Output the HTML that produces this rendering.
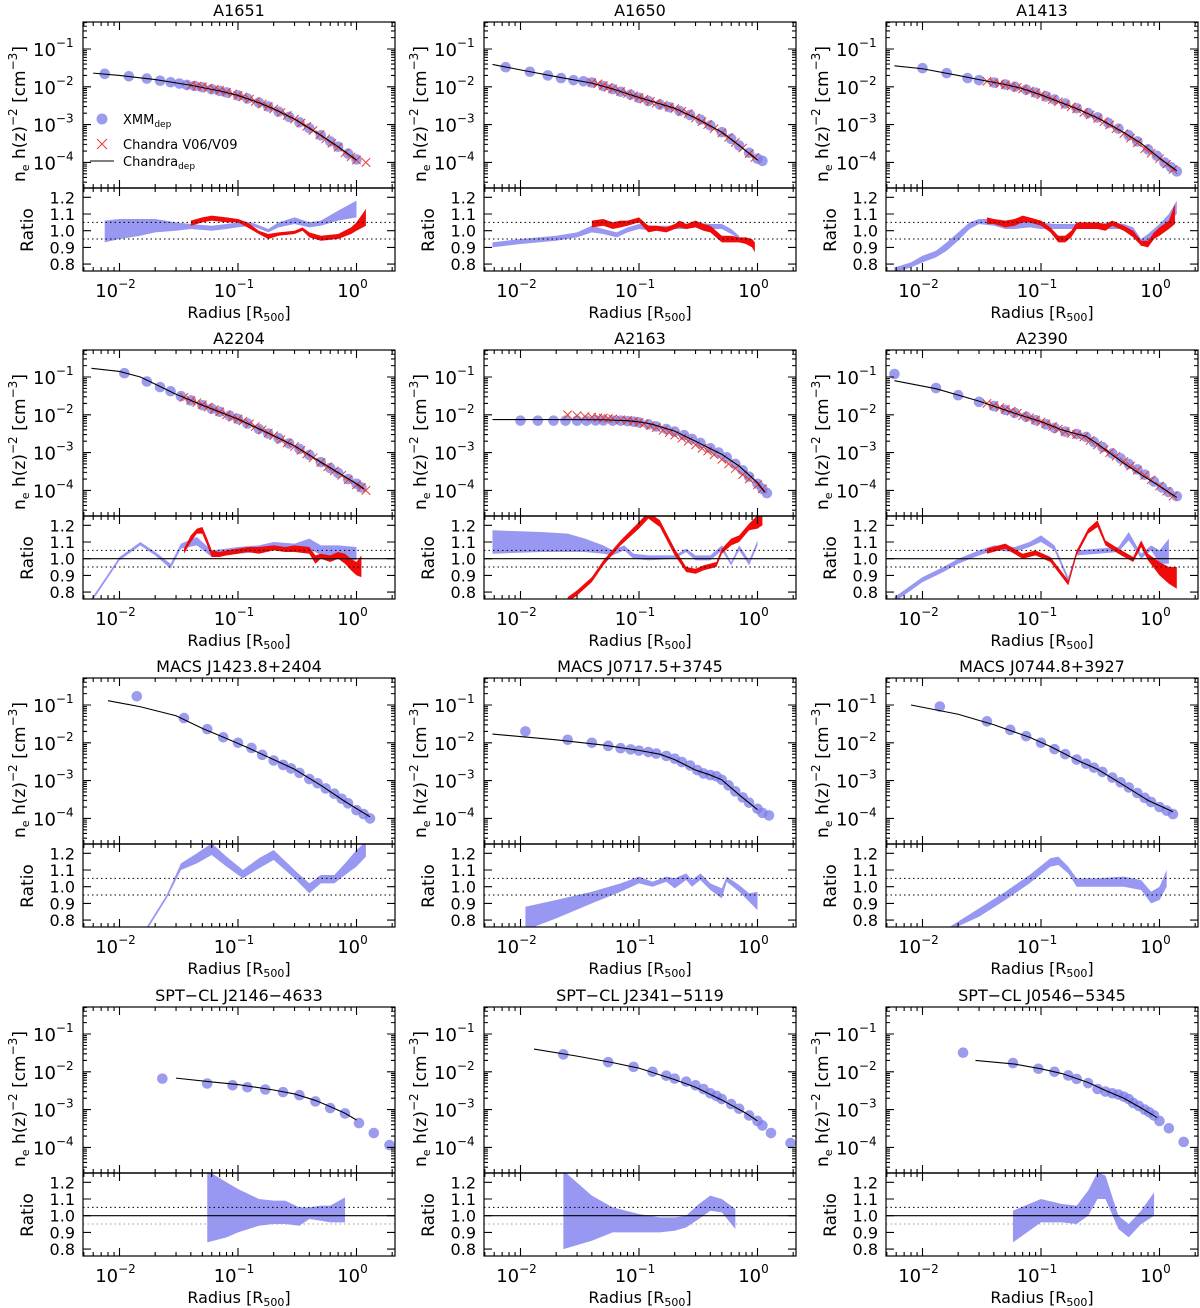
<!DOCTYPE html>
<html><head><meta charset="utf-8">
<style>
html,body{margin:0;padding:0;background:#fff;}
svg{display:block;font-family:"DejaVu Sans","Liberation Sans",sans-serif;}
</style></head>
<body>
<svg id="fig" xmlns="http://www.w3.org/2000/svg" width="1200" height="1308" viewBox="0 0 1200 1308"></svg>
<script>
// ---------- data (radius in R500, ne h(z)^-2 in cm^-3, ratio) ----------
const p1_title="A1651";
const p1_xr=[0.0075,0.012,0.017,0.022,0.027,0.032,0.037,0.043,0.05,0.06,0.07,0.08,0.1,0.12,0.15,0.18,0.22,0.27,0.33,0.4,0.5,0.6,0.7,0.85,1.0];
const p1_xn=[2.2e-2,1.9e-2,1.65e-2,1.45e-2,1.32e-2,1.22e-2,1.12e-2,1.05e-2,9.7e-3,8.6e-3,7.8e-3,7.1e-3,5.9e-3,4.9e-3,3.8e-3,3.0e-3,2.2e-3,1.6e-3,1.15e-3,8.0e-4,5.2e-4,3.6e-4,2.6e-4,1.7e-4,1.2e-4];
const p1_cr=[0.04,0.045,0.05,0.056,0.063,0.07,0.08,0.09,0.1,0.11,0.125,0.14,0.16,0.18,0.2,0.23,0.26,0.3,0.34,0.38,0.43,0.49,0.55,0.62,0.7,0.8,0.9,1.0,1.2];
const p1_cn=[1.1e-2,1.05e-2,1.0e-2,9.3e-3,8.6e-3,8.0e-3,7.2e-3,6.5e-3,5.9e-3,5.4e-3,4.7e-3,4.1e-3,3.5e-3,3.0e-3,2.6e-3,2.1e-3,1.75e-3,1.4e-3,1.1e-3,9.0e-4,7.0e-4,5.4e-4,4.2e-4,3.2e-4,2.5e-4,1.8e-4,1.4e-4,1.15e-4,1.0e-4];
const p1_mr=[0.006,0.01,0.02,0.04,0.07,0.1,0.15,0.2,0.3,0.5,0.7,1.0];
const p1_mn=[2.3e-2,2.0e-2,1.55e-2,1.1e-2,7.8e-3,5.9e-3,3.8e-3,2.6e-3,1.4e-3,5.2e-4,2.6e-4,1.15e-4];
const p1_br=[0.0075,0.01,0.015,0.02,0.03,0.04,0.06,0.08,0.1,0.13,0.18,0.22,0.3,0.4,0.5,0.7,1.0];
const p1_blo=[0.93,0.95,0.97,0.99,1.0,1.01,1.0,1.01,1.02,1.03,0.99,1.02,1.04,1.02,1.03,1.06,1.08];
const p1_bhi=[1.06,1.07,1.07,1.07,1.05,1.04,1.03,1.04,1.05,1.05,1.01,1.05,1.08,1.05,1.06,1.12,1.18];
const p1_rr=[0.04,0.05,0.06,0.08,0.1,0.12,0.15,0.18,0.22,0.3,0.35,0.4,0.5,0.7,0.9,1.0,1.2];
const p1_rlo=[1.03,1.05,1.06,1.05,1.05,1.02,0.98,0.95,0.97,0.98,1.0,0.96,0.94,0.95,0.98,1.0,1.03];
const p1_rhi=[1.06,1.08,1.09,1.08,1.07,1.05,1.0,0.98,0.99,1.0,1.02,0.99,0.97,0.98,1.02,1.05,1.13];

const p2_title="A1650";
const p2_xr=[0.0075,0.012,0.017,0.022,0.028,0.034,0.04,0.05,0.06,0.07,0.085,0.1,0.12,0.15,0.18,0.22,0.27,0.33,0.4,0.5,0.6,0.7,0.85,1.0,1.1];
const p2_xn=[3.3e-2,2.5e-2,2.0e-2,1.7e-2,1.5e-2,1.4e-2,1.3e-2,1.05e-2,8.7e-3,7.4e-3,6.2e-3,5.1e-3,4.2e-3,3.4e-3,2.9e-3,2.3e-3,1.8e-3,1.35e-3,9.5e-4,6.3e-4,4.2e-4,2.8e-4,1.8e-4,1.25e-4,1.1e-4];
const p2_cr=[0.04,0.045,0.05,0.055,0.06,0.07,0.08,0.09,0.1,0.11,0.125,0.14,0.16,0.18,0.2,0.23,0.26,0.3,0.34,0.38,0.43,0.5,0.57,0.65,0.75,0.85,0.95];
const p2_cn=[1.3e-2,1.2e-2,1.08e-2,9.7e-3,8.8e-3,7.5e-3,6.6e-3,5.8e-3,5.2e-3,4.7e-3,4.1e-3,3.7e-3,3.3e-3,2.9e-3,2.65e-3,2.25e-3,1.95e-3,1.5e-3,1.2e-3,1.0e-3,7.8e-4,6.0e-4,4.6e-4,3.4e-4,2.4e-4,1.7e-4,1.35e-4];
const p2_mr=[0.0058,0.01,0.02,0.04,0.06,0.1,0.2,0.3,0.5,0.7,1.0];
const p2_mn=[3.9e-2,2.8e-2,1.85e-2,1.25e-2,8.8e-3,5.2e-3,2.7e-3,1.5e-3,6.3e-4,2.8e-4,1.15e-4];
const p2_br=[0.0058,0.01,0.02,0.03,0.04,0.05,0.065,0.08,0.1,0.13,0.18,0.25,0.3,0.4,0.5,0.6,0.7];
const p2_blo=[0.90,0.92,0.94,0.96,0.99,0.98,0.96,0.99,1.01,1.0,1.01,1.01,1.02,1.01,1.01,0.98,0.95];
const p2_bhi=[0.93,0.95,0.97,0.99,1.03,1.01,0.99,1.02,1.04,1.03,1.03,1.04,1.05,1.04,1.04,1.01,0.97];
const p2_rr=[0.04,0.05,0.06,0.07,0.08,0.1,0.12,0.14,0.17,0.2,0.22,0.25,0.3,0.35,0.4,0.5,0.6,0.7,0.8,0.9,0.95];
const p2_rlo=[1.02,1.03,1.01,1.02,1.03,1.05,0.99,1.0,0.99,1.01,1.02,1.01,1.02,1.0,0.99,0.93,0.93,0.93,0.92,0.9,0.87];
const p2_rhi=[1.06,1.07,1.05,1.06,1.06,1.08,1.03,1.03,1.02,1.04,1.06,1.04,1.06,1.04,1.03,0.97,0.97,0.96,0.96,0.95,0.93];

const p3_title="A1413";
const p3_xr=[0.01,0.016,0.024,0.03,0.04,0.05,0.06,0.075,0.09,0.11,0.13,0.16,0.2,0.25,0.3,0.37,0.45,0.55,0.65,0.8,0.95,1.1,1.25,1.4];
const p3_xn=[3.1e-2,2.3e-2,1.7e-2,1.5e-2,1.3e-2,1.15e-2,1.0e-2,8.4e-3,7.0e-3,5.6e-3,4.6e-3,3.6e-3,2.7e-3,2.0e-3,1.55e-3,1.1e-3,7.8e-4,5.2e-4,3.6e-4,2.2e-4,1.5e-4,1.0e-4,7.5e-5,5.8e-5];
const p3_cr=[0.035,0.04,0.045,0.05,0.056,0.063,0.07,0.08,0.09,0.1,0.11,0.125,0.14,0.16,0.18,0.2,0.23,0.26,0.3,0.34,0.38,0.43,0.5,0.57,0.65,0.75,0.85,1.0,1.15,1.3];
const p3_cn=[1.4e-2,1.3e-2,1.2e-2,1.12e-2,1.05e-2,9.6e-3,8.8e-3,7.8e-3,6.9e-3,6.1e-3,5.4e-3,4.6e-3,4.0e-3,3.4e-3,2.95e-3,2.6e-3,2.1e-3,1.8e-3,1.45e-3,1.2e-3,9.8e-4,7.8e-4,5.8e-4,4.4e-4,3.3e-4,2.3e-4,1.75e-4,1.25e-4,9e-5,6.5e-5];
const p3_mr=[0.0058,0.01,0.02,0.03,0.05,0.07,0.1,0.2,0.3,0.5,0.7,1.0,1.4];
const p3_mn=[3.6e-2,3.0e-2,2.0e-2,1.55e-2,1.15e-2,8.9e-3,6.1e-3,2.65e-3,1.5e-3,6.2e-4,3.2e-4,1.3e-4,6e-5];
const p3_br=[0.0058,0.008,0.01,0.013,0.016,0.02,0.025,0.03,0.04,0.05,0.06,0.08,0.1,0.13,0.2,0.3,0.4,0.5,0.6,0.7,0.8,1.0,1.2,1.4];
const p3_blo=[0.75,0.78,0.81,0.84,0.88,0.94,1.01,1.04,1.03,1.01,1.01,1.02,1.01,1.01,1.01,1.01,1.01,1.01,0.98,0.91,0.94,1.0,1.05,1.1];
const p3_bhi=[0.78,0.81,0.85,0.88,0.93,0.99,1.05,1.07,1.07,1.05,1.04,1.06,1.05,1.04,1.04,1.04,1.05,1.04,1.02,0.95,0.98,1.04,1.1,1.18];
const p3_rr=[0.035,0.04,0.05,0.06,0.07,0.08,0.1,0.12,0.14,0.16,0.18,0.2,0.25,0.3,0.35,0.4,0.5,0.6,0.7,0.8,0.9,1.0,1.2,1.35];
const p3_rlo=[1.04,1.04,1.02,1.03,1.05,1.05,1.03,0.99,0.93,0.93,0.96,1.01,1.01,1.01,1.0,1.03,1.0,0.96,0.91,0.9,0.95,0.97,1.01,1.04];
const p3_rhi=[1.08,1.07,1.06,1.07,1.09,1.08,1.06,1.02,0.97,0.97,1.0,1.05,1.05,1.05,1.04,1.06,1.03,1.0,0.94,0.94,0.99,1.02,1.06,1.16];

const p4_title="A2204";
const p4_xr=[0.011,0.017,0.022,0.027,0.033,0.04,0.05,0.06,0.07,0.085,0.1,0.12,0.15,0.18,0.22,0.27,0.33,0.4,0.5,0.6,0.7,0.85,1.0,1.1];
const p4_xn=[0.126,7.6e-2,5.4e-2,4.2e-2,3.1e-2,2.4e-2,1.8e-2,1.45e-2,1.2e-2,9.5e-3,7.7e-3,5.9e-3,4.2e-3,3.2e-3,2.4e-3,1.75e-3,1.25e-3,8.7e-4,5.6e-4,3.9e-4,2.9e-4,2.0e-4,1.5e-4,1.2e-4];
const p4_cr=[0.035,0.04,0.045,0.05,0.056,0.063,0.07,0.08,0.09,0.1,0.11,0.125,0.14,0.16,0.18,0.2,0.23,0.26,0.3,0.34,0.38,0.43,0.5,0.57,0.65,0.75,0.85,1.0,1.1,1.2];
const p4_cn=[2.9e-2,2.4e-2,2.1e-2,1.85e-2,1.6e-2,1.38e-2,1.2e-2,1.0e-2,8.6e-3,7.7e-3,6.8e-3,5.8e-3,4.9e-3,4.0e-3,3.3e-3,2.8e-3,2.2e-3,1.8e-3,1.45e-3,1.15e-3,9.2e-4,7.3e-4,5.5e-4,4.2e-4,3.3e-4,2.5e-4,1.9e-4,1.4e-4,1.2e-4,1.0e-4];
const p4_mr=[0.0058,0.01,0.015,0.02,0.03,0.05,0.1,0.2,0.3,0.5,1.0,1.15];
const p4_mn=[0.17,0.14,0.10,6.5e-2,3.5e-2,1.8e-2,7.7e-3,2.8e-3,1.5e-3,5.6e-4,1.5e-4,1.1e-4];
const p4_br=[0.0058,0.01,0.015,0.02,0.027,0.033,0.045,0.06,0.08,0.1,0.15,0.2,0.3,0.4,0.5,0.7,1.0];
const p4_blo=[0.74,0.99,1.08,1.02,0.94,1.06,1.08,1.01,1.02,1.03,1.04,1.05,1.04,1.06,1.02,1.0,0.99];
const p4_bhi=[0.76,1.01,1.10,1.04,0.97,1.09,1.13,1.05,1.06,1.07,1.08,1.1,1.09,1.12,1.08,1.08,1.07];
const p4_rr=[0.035,0.04,0.045,0.05,0.055,0.06,0.07,0.08,0.1,0.12,0.15,0.2,0.25,0.3,0.4,0.45,0.5,0.6,0.7,0.8,0.9,1.0,1.1];
const p4_rlo=[1.03,1.1,1.15,1.15,1.08,1.01,1.01,1.02,1.03,1.04,1.03,1.05,1.04,1.04,1.03,0.97,1.0,0.98,1.0,0.97,0.93,0.9,0.89];
const p4_rhi=[1.06,1.14,1.18,1.19,1.12,1.05,1.04,1.05,1.06,1.07,1.07,1.08,1.07,1.08,1.07,1.02,1.03,1.02,1.04,1.03,1.0,0.98,1.02];

const p5_title="A2163";
const p5_xr=[0.01,0.014,0.019,0.024,0.03,0.036,0.043,0.05,0.06,0.07,0.08,0.09,0.1,0.12,0.14,0.17,0.2,0.24,0.28,0.33,0.4,0.47,0.55,0.65,0.75,0.85,1.0,1.1,1.2];
const p5_xn=[7.0e-3,7.0e-3,7.0e-3,7.0e-3,7.0e-3,7.0e-3,7.1e-3,7.1e-3,7.0e-3,7.0e-3,6.8e-3,6.6e-3,6.3e-3,5.6e-3,4.9e-3,4.2e-3,3.6e-3,2.9e-3,2.3e-3,1.8e-3,1.3e-3,1.0e-3,7.5e-4,5.0e-4,3.4e-4,2.3e-4,1.5e-4,1.1e-4,8.5e-5];
const p5_cr=[0.025,0.03,0.035,0.04,0.045,0.05,0.055,0.06,0.07,0.08,0.09,0.1,0.11,0.125,0.14,0.16,0.18,0.2,0.23,0.26,0.3,0.34,0.38,0.43,0.5,0.57,0.65,0.75,0.85,1.0,1.1];
const p5_cn=[1.0e-2,9.5e-3,9.0e-3,8.7e-3,8.4e-3,8.2e-3,8.0e-3,7.8e-3,7.4e-3,7.1e-3,6.8e-3,6.3e-3,5.8e-3,5.2e-3,4.6e-3,3.9e-3,3.4e-3,2.9e-3,2.4e-3,2.0e-3,1.6e-3,1.3e-3,1.1e-3,8.8e-4,6.6e-4,5.0e-4,3.8e-4,2.6e-4,2.0e-4,1.4e-4,1.1e-4];
const p5_mr=[0.0058,0.02,0.05,0.08,0.1,0.13,0.2,0.3,0.5,0.7,1.0,1.15];
const p5_mn=[7.5e-3,7.5e-3,7.4e-3,7.0e-3,6.5e-3,5.6e-3,3.7e-3,2.0e-3,9.0e-4,4.4e-4,1.6e-4,9e-5];
const p5_br=[0.0058,0.015,0.025,0.035,0.05,0.06,0.075,0.09,0.12,0.2,0.25,0.3,0.4,0.5,0.6,0.7,0.85,1.0];
const p5_blo=[1.03,1.04,1.04,1.04,1.03,1.02,1.05,1.0,0.99,1.0,1.04,0.99,0.99,1.05,0.96,1.05,0.96,1.08];
const p5_bhi=[1.17,1.16,1.15,1.12,1.08,1.05,1.08,1.03,1.02,1.02,1.06,1.02,1.02,1.08,0.98,1.08,0.99,1.11];
const p5_rr=[0.025,0.03,0.04,0.05,0.07,0.1,0.12,0.15,0.2,0.25,0.3,0.35,0.45,0.5,0.6,0.7,0.85,1.0,1.1];
const p5_rlo=[0.74,0.78,0.86,0.96,1.08,1.18,1.24,1.19,1.02,0.92,0.91,0.93,0.95,1.03,1.08,1.1,1.17,1.18,1.2];
const p5_rhi=[0.77,0.81,0.89,0.99,1.11,1.22,1.28,1.23,1.06,0.95,0.94,0.96,0.98,1.06,1.12,1.14,1.21,1.26,1.28];

const p6_title="A2390";
const p6_xr=[0.0058,0.013,0.02,0.03,0.04,0.05,0.06,0.075,0.09,0.11,0.13,0.16,0.2,0.24,0.28,0.33,0.4,0.47,0.55,0.65,0.75,0.9,1.05,1.2,1.4];
const p6_xn=[0.12,5.1e-2,3.3e-2,2.2e-2,1.7e-2,1.35e-2,1.12e-2,8.9e-3,7.2e-3,5.6e-3,4.5e-3,3.6e-3,3.1e-3,2.6e-3,1.9e-3,1.4e-3,9.5e-4,7.0e-4,5.0e-4,3.6e-4,2.6e-4,1.7e-4,1.2e-4,9e-5,7e-5];
const p6_cr=[0.035,0.04,0.045,0.05,0.056,0.063,0.07,0.08,0.09,0.1,0.11,0.125,0.14,0.16,0.18,0.2,0.23,0.26,0.3,0.34,0.38,0.43,0.5,0.57,0.65,0.75,0.85,1.0,1.15,1.3];
const p6_cn=[2.0e-2,1.75e-2,1.55e-2,1.4e-2,1.25e-2,1.1e-2,9.5e-3,8.3e-3,7.3e-3,6.5e-3,5.8e-3,4.9e-3,4.2e-3,3.6e-3,3.2e-3,3.0e-3,2.6e-3,2.1e-3,1.6e-3,1.2e-3,1.0e-3,8.0e-4,5.8e-4,4.4e-4,3.4e-4,2.5e-4,1.9e-4,1.3e-4,9.5e-5,7e-5];
const p6_mr=[0.0058,0.013,0.03,0.06,0.1,0.15,0.2,0.24,0.3,0.5,0.7,1.0,1.4];
const p6_mn=[8.0e-2,4.9e-2,2.3e-2,1.1e-2,6.6e-3,4.0e-3,3.1e-3,2.7e-3,1.7e-3,5.2e-4,2.6e-4,1.3e-4,6.5e-5];
const p6_br=[0.0058,0.01,0.015,0.02,0.03,0.04,0.06,0.08,0.1,0.13,0.17,0.2,0.3,0.45,0.55,0.7,0.85,1.0,1.2];
const p6_blo=[0.74,0.86,0.92,0.97,1.02,1.05,1.04,1.07,1.1,1.05,0.86,1.02,1.03,1.04,1.11,1.0,1.05,0.97,0.97];
const p6_bhi=[0.77,0.89,0.95,1.0,1.05,1.08,1.07,1.1,1.14,1.08,0.89,1.05,1.06,1.07,1.16,1.03,1.08,1.05,1.12];
const p6_rr=[0.035,0.05,0.07,0.09,0.12,0.17,0.2,0.25,0.3,0.35,0.45,0.6,0.7,0.8,1.0,1.2,1.4];
const p6_rlo=[1.03,1.06,1.0,1.02,0.98,0.84,1.02,1.15,1.19,1.08,1.03,0.98,1.07,0.99,0.9,0.85,0.82];
const p6_rhi=[1.06,1.09,1.03,1.05,1.01,0.87,1.05,1.18,1.23,1.11,1.06,1.01,1.11,1.03,0.98,0.95,0.95];

const p7_title="MACS J1423.8+2404";
const p7_xr=[0.014,0.035,0.055,0.075,0.1,0.13,0.16,0.2,0.24,0.28,0.33,0.4,0.47,0.55,0.65,0.75,0.85,1.0,1.15,1.3];
const p7_xn=[0.17,4.5e-2,2.3e-2,1.4e-2,1.0e-2,7.3e-3,4.8e-3,3.4e-3,2.6e-3,2.1e-3,1.6e-3,1.1e-3,8.5e-4,6.2e-4,4.5e-4,3.3e-4,2.5e-4,1.65e-4,1.3e-4,1.0e-4];
const p7_mr=[0.008,0.015,0.03,0.05,0.08,0.12,0.2,0.3,0.5,0.8,1.3];
const p7_mn=[0.13,0.09,5.2e-2,2.4e-2,1.3e-2,7.5e-3,3.6e-3,2.0e-3,7.5e-4,2.8e-4,1.1e-4];
const p7_br=[0.017,0.025,0.033,0.045,0.06,0.08,0.11,0.15,0.2,0.3,0.4,0.5,0.65,0.8,1.0,1.2];
const p7_blo=[0.74,0.93,1.1,1.14,1.19,1.12,1.05,1.11,1.16,1.05,0.96,1.02,1.02,1.07,1.12,1.18];
const p7_bhi=[0.76,0.95,1.14,1.2,1.26,1.18,1.1,1.17,1.22,1.1,1.02,1.07,1.07,1.14,1.22,1.27];

const p8_title="MACS J0717.5+3745";
const p8_xr=[0.011,0.025,0.04,0.055,0.07,0.085,0.1,0.12,0.14,0.17,0.2,0.23,0.27,0.31,0.35,0.4,0.45,0.5,0.57,0.65,0.75,0.85,1.0,1.1,1.25];
const p8_xn=[2.0e-2,1.2e-2,1.0e-2,8.3e-3,7.2e-3,6.7e-3,6.2e-3,5.7e-3,5.2e-3,4.5e-3,3.8e-3,3.1e-3,2.5e-3,1.9e-3,1.55e-3,1.4e-3,1.3e-3,1.05e-3,7.5e-4,5.2e-4,3.6e-4,2.6e-4,1.8e-4,1.4e-4,1.2e-4];
const p8_mr=[0.0058,0.02,0.05,0.1,0.15,0.2,0.3,0.4,0.5,0.7,1.0];
const p8_mn=[1.7e-2,1.2e-2,8.7e-3,6.3e-3,5.0e-3,3.6e-3,1.9e-3,1.4e-3,1.05e-3,4.2e-4,1.7e-4];
const p8_br=[0.011,0.02,0.04,0.07,0.1,0.13,0.17,0.2,0.25,0.28,0.33,0.4,0.5,0.55,0.7,0.85,1.0];
const p8_blo=[0.74,0.81,0.9,0.97,1.02,1.0,1.03,0.99,1.04,1.0,1.04,0.98,0.93,1.03,0.97,0.91,0.86];
const p8_bhi=[0.88,0.92,0.97,1.02,1.06,1.03,1.06,1.05,1.08,1.04,1.08,1.02,0.99,1.06,1.01,0.96,0.97];

const p9_title="MACS J0744.8+3927";
const p9_xr=[0.014,0.035,0.055,0.075,0.1,0.13,0.16,0.2,0.24,0.28,0.33,0.4,0.47,0.55,0.65,0.75,0.85,1.0,1.15,1.3];
const p9_xn=[9.1e-2,3.7e-2,2.2e-2,1.5e-2,1.0e-2,6.8e-3,5.0e-3,3.6e-3,2.8e-3,2.2e-3,1.7e-3,1.2e-3,9.0e-4,6.6e-4,4.7e-4,3.5e-4,2.7e-4,2.0e-4,1.6e-4,1.3e-4];
const p9_mr=[0.008,0.02,0.04,0.08,0.12,0.2,0.3,0.5,0.8,1.3];
const p9_mn=[0.1,5.7e-2,3.0e-2,1.4e-2,8.0e-3,3.5e-3,2.0e-3,7.5e-4,3.0e-4,1.5e-4];
const p9_br=[0.017,0.03,0.05,0.08,0.12,0.14,0.17,0.2,0.3,0.5,0.7,0.85,1.0,1.15];
const p9_blo=[0.74,0.82,0.92,1.02,1.12,1.13,1.08,1.0,1.0,1.0,0.98,0.9,0.92,1.0];
const p9_bhi=[0.76,0.87,0.97,1.07,1.17,1.18,1.12,1.05,1.05,1.06,1.04,0.97,1.0,1.1];

const p10_title="SPT\u2212CL J2146\u22124633";
const p10_xr=[0.023,0.055,0.09,0.12,0.17,0.24,0.33,0.45,0.6,0.8,1.05,1.4,1.9];
const p10_xn=[6.6e-3,4.9e-3,4.4e-3,3.9e-3,3.4e-3,2.9e-3,2.4e-3,1.65e-3,1.1e-3,7.9e-4,4.4e-4,2.4e-4,1.15e-4];
const p10_mr=[0.03,0.06,0.1,0.2,0.3,0.45,0.6,0.8,1.0];
const p10_mn=[6.8e-3,5.4e-3,4.6e-3,3.3e-3,2.6e-3,1.75e-3,1.2e-3,8.0e-4,5.3e-4];
const p10_br=[0.055,0.08,0.1,0.15,0.2,0.25,0.33,0.4,0.5,0.6,0.8];
const p10_blo=[0.84,0.87,0.9,0.94,0.95,0.95,0.94,0.98,0.97,0.96,0.96];
const p10_bhi=[1.27,1.2,1.16,1.1,1.09,1.09,1.05,1.05,1.06,1.06,1.11];

const p11_title="SPT\u2212CL J2341\u22125119";
const p11_xr=[0.023,0.055,0.09,0.13,0.17,0.2,0.25,0.3,0.35,0.4,0.45,0.5,0.6,0.7,0.85,1.0,1.1,1.3,1.9];
const p11_xn=[2.9e-2,1.8e-2,1.35e-2,1.0e-2,7.9e-3,6.6e-3,5.5e-3,4.4e-3,3.5e-3,2.7e-3,2.3e-3,1.9e-3,1.4e-3,1.05e-3,7e-4,5e-4,3.8e-4,2.4e-4,1.3e-4];
const p11_mr=[0.013,0.03,0.06,0.1,0.2,0.3,0.5,0.8,1.0];
const p11_mn=[4.0e-2,2.6e-2,1.75e-2,1.25e-2,6.2e-3,3.9e-3,1.8e-3,8e-4,5e-4];
const p11_br=[0.023,0.04,0.06,0.1,0.15,0.2,0.25,0.32,0.4,0.5,0.65];
const p11_blo=[0.8,0.85,0.9,0.9,0.9,0.91,0.93,0.98,1.03,1.02,0.92];
const p11_bhi=[1.27,1.12,1.05,1.01,0.99,0.99,1.0,1.07,1.12,1.1,1.04];

const p12_title="SPT\u2212CL J0546\u22125345";
const p12_xr=[0.022,0.058,0.095,0.13,0.17,0.2,0.25,0.3,0.35,0.4,0.45,0.5,0.55,0.6,0.67,0.75,0.82,0.9,1.0,1.2,1.6];
const p12_xn=[3.2e-2,1.7e-2,1.2e-2,1.0e-2,8e-3,6.5e-3,5.0e-3,3.5e-3,3.0e-3,2.7e-3,2.5e-3,2.2e-3,1.9e-3,1.5e-3,1.25e-3,1.0e-3,8.5e-4,7e-4,5e-4,3.2e-4,1.4e-4];
const p12_mr=[0.028,0.06,0.1,0.15,0.25,0.35,0.5,0.7,0.95];
const p12_mn=[2.0e-2,1.6e-2,1.2e-2,9e-3,5.2e-3,3.2e-3,2.0e-3,1.1e-3,6.2e-4];
const p12_br=[0.058,0.1,0.15,0.2,0.25,0.3,0.35,0.45,0.55,0.7,0.9];
const p12_blo=[0.84,0.96,0.96,0.95,1.0,1.1,1.1,0.92,0.87,0.95,1.0];
const p12_bhi=[1.03,1.1,1.07,1.06,1.15,1.26,1.24,1.0,0.95,1.03,1.14];

const rowTops=[22,350,678,1007];
const colLefts=[83,484,886];

const panels=[
 {t:p1_title,xr:p1_xr,xn:p1_xn,cr:p1_cr,cn:p1_cn,mr:p1_mr,mn:p1_mn,br:p1_br,blo:p1_blo,bhi:p1_bhi,rr:p1_rr,rlo:p1_rlo,rhi:p1_rhi,unity:false,grayLow:false,legend:true},
 {t:p2_title,xr:p2_xr,xn:p2_xn,cr:p2_cr,cn:p2_cn,mr:p2_mr,mn:p2_mn,br:p2_br,blo:p2_blo,bhi:p2_bhi,rr:p2_rr,rlo:p2_rlo,rhi:p2_rhi,unity:false,grayLow:false},
 {t:p3_title,xr:p3_xr,xn:p3_xn,cr:p3_cr,cn:p3_cn,mr:p3_mr,mn:p3_mn,br:p3_br,blo:p3_blo,bhi:p3_bhi,rr:p3_rr,rlo:p3_rlo,rhi:p3_rhi,unity:false,grayLow:false},
 {t:p4_title,xr:p4_xr,xn:p4_xn,cr:p4_cr,cn:p4_cn,mr:p4_mr,mn:p4_mn,br:p4_br,blo:p4_blo,bhi:p4_bhi,rr:p4_rr,rlo:p4_rlo,rhi:p4_rhi,unity:true,grayLow:false},
 {t:p5_title,xr:p5_xr,xn:p5_xn,cr:p5_cr,cn:p5_cn,mr:p5_mr,mn:p5_mn,br:p5_br,blo:p5_blo,bhi:p5_bhi,rr:p5_rr,rlo:p5_rlo,rhi:p5_rhi,unity:true,grayLow:false},
 {t:p6_title,xr:p6_xr,xn:p6_xn,cr:p6_cr,cn:p6_cn,mr:p6_mr,mn:p6_mn,br:p6_br,blo:p6_blo,bhi:p6_bhi,rr:p6_rr,rlo:p6_rlo,rhi:p6_rhi,unity:true,grayLow:false},
 {t:p7_title,xr:p7_xr,xn:p7_xn,mr:p7_mr,mn:p7_mn,br:p7_br,blo:p7_blo,bhi:p7_bhi,unity:false,grayLow:false},
 {t:p8_title,xr:p8_xr,xn:p8_xn,mr:p8_mr,mn:p8_mn,br:p8_br,blo:p8_blo,bhi:p8_bhi,unity:false,grayLow:false},
 {t:p9_title,xr:p9_xr,xn:p9_xn,mr:p9_mr,mn:p9_mn,br:p9_br,blo:p9_blo,bhi:p9_bhi,unity:false,grayLow:false},
 {t:p10_title,xr:p10_xr,xn:p10_xn,mr:p10_mr,mn:p10_mn,br:p10_br,blo:p10_blo,bhi:p10_bhi,unity:true,grayLow:true},
 {t:p11_title,xr:p11_xr,xn:p11_xn,mr:p11_mr,mn:p11_mn,br:p11_br,blo:p11_blo,bhi:p11_bhi,unity:true,grayLow:true},
 {t:p12_title,xr:p12_xr,xn:p12_xn,mr:p12_mr,mn:p12_mn,br:p12_br,blo:p12_blo,bhi:p12_bhi,unity:true,grayLow:true}
];

// ---------- rendering ----------
const NS="http://www.w3.org/2000/svg";
const svg=document.getElementById('fig');
const W=312, UH=166, LH=83;
function mk(tag,attrs,parent){const e=document.createElementNS(NS,tag);for(const k in attrs)e.setAttribute(k,attrs[k]);(parent||svg).appendChild(e);return e;}

panels.forEach((p,i)=>{
  const L=colLefts[i%3], T=rowTops[Math.floor(i/3)], D=T+UH, B=D+LH;
  const X=r=>L+36.5+(Math.log10(r)+2)*118.5;
  const YU=n=>T+27+(-1-Math.log10(n))*37.8;
  const YR=v=>D+9.3+(1.2-v)*167;
  const g=mk('g',{});
  
  
  const cu=mk('clipPath',{id:'cu'+i},g); mk('rect',{x:L,y:T,width:W,height:UH},cu);
  const cl=mk('clipPath',{id:'cl'+i},g); mk('rect',{x:L,y:D,width:W,height:LH},cl);

  const tt=mk('text',{x:L+W/2,y:T-6,'text-anchor':'middle','font-size':16},g);
  tt.textContent=p.t;
  
  

  const gu=mk('g',{'clip-path':'url(#cu'+i+')'},g);
  
  
  p.xr.forEach((r,k)=>{
    const c=mk('circle',{cx:X(r),cy:YU(p.xn[k]),r:5.3,fill:'#7b7bea','fill-opacity':0.75},gu);
    
    
  });
  if(p.cr){p.cr.forEach((r,k)=>{
    const x=X(r),y=YU(p.cn[k]),s=4.2;
    const c=mk('path',{d:`M${x-s},${y-s}L${x+s},${y+s}M${x-s},${y+s}L${x+s},${y-s}`,stroke:'#e8382f','stroke-width':1,fill:'none'},gu);
    
    
  });}
  const ml=mk('polyline',{points:p.mr.map((r,k)=>X(r)+','+YU(p.mn[k])).join(' '),fill:'none',stroke:'#000','stroke-width':1.1},gu);
  
  

  const gl=mk('g',{'clip-path':'url(#cl'+i+')'},g);
  
  
  const band=(rr,lo,hi,col,name)=>{
    const pts=rr.map((r,k)=>X(r)+','+YR(hi[k])).concat(rr.slice().reverse().map((r,k)=>X(r)+','+YR(lo[rr.length-1-k])));
    const e=mk('polygon',{points:pts.join(' '),fill:col},gl);
    
    
  };
  band(p.br,p.blo,p.bhi,'#9898f2','xmm-ratio-band');
  if(p.rr) band(p.rr,p.rlo,p.rhi,'#f00a0a','chandra-ratio-band');
  const h1=mk('line',{x1:L,x2:L+W,y1:YR(1.05),y2:YR(1.05),stroke:'#000','stroke-width':1,'stroke-dasharray':'1.5,3'},g);
  
  
  const h2=mk('line',{x1:L,x2:L+W,y1:YR(0.95),y2:YR(0.95),stroke:p.grayLow?'#999':'#000','stroke-width':1,'stroke-dasharray':'1.5,3'},g);
  
  
  if(p.unity){const u=mk('line',{x1:L,x2:L+W,y1:YR(1),y2:YR(1),stroke:'#000','stroke-width':1.2},g);
    
    }

  mk('rect',{x:L,y:T,width:W,height:UH+LH,fill:'none',stroke:'#000','stroke-width':1.2},g);
  mk('line',{x1:L,x2:L+W,y1:D,y2:D,stroke:'#000','stroke-width':1.5},g);

  let td='';
  for(let e=-3;e<=0;e++){for(let m=1;m<10;m++){const r=m*Math.pow(10,e);const x=X(r);if(x<L+0.5||x>L+W-0.5)continue;const len=m===1?8:4;
    td+=`M${x},${T}v${len}M${x},${D}v${-len}M${x},${D}v${len}M${x},${B}v${-len}`;}}
  for(let e=-5;e<=-1;e++){for(let m=1;m<10;m++){const n=m*Math.pow(10,e);const y=YU(n);if(y<T+0.5||y>D-0.5)continue;const len=m===1?8:4;
    td+=`M${L},${y}h${len}M${L+W},${y}h${-len}`;}}
  [0.8,0.9,1.0,1.1,1.2].forEach(v=>{const y=YR(v);td+=`M${L},${y}h8M${L+W},${y}h-8`;});
  mk('path',{d:td,stroke:'#000','stroke-width':1.1,fill:'none'},g);

  [-2,-1,0].forEach(e=>{
    const t=mk('text',{x:X(Math.pow(10,e))-4,y:B+26,'text-anchor':'middle','font-size':18},g);
    
    
    t.appendChild(document.createTextNode('10'));
    const s=mk('tspan',{dy:-9,'font-size':12},t); s.textContent=e===0?'0':'\u2212'+(-e);
  });
  const xl=mk('text',{x:L+W/2,y:B+47,'text-anchor':'middle','font-size':16},g);
  
  
  xl.appendChild(document.createTextNode('Radius  [R'));
  const sb=mk('tspan',{'font-size':11,dy:3},xl); sb.textContent='500';
  const sc=mk('tspan',{dy:-3},xl); sc.textContent=']';

  [-1,-2,-3,-4].forEach(e=>{
    const y=YU(Math.pow(10,e));
    const t=mk('text',{x:L-50,y:y+7,'font-size':18},g);
    
    
    t.appendChild(document.createTextNode('10'));
    const s=mk('tspan',{dy:-9,'font-size':12},t); s.textContent='\u2212'+(-e);
  });
  ['0.8','0.9','1.0','1.1','1.2'].forEach(v=>{
    const t=mk('text',{x:L-8,y:YR(+v)+6,'text-anchor':'end','font-size':16},g);
    t.textContent=v;
    
    
  });
  const yt=mk('text',{transform:`translate(${L-58},${T+92}) rotate(-90)`,'text-anchor':'middle','font-size':17},g);
  
  
  yt.appendChild(document.createTextNode('n'));
  const e1=mk('tspan',{'font-size':11,dy:4},yt); e1.textContent='e';
  const e2=mk('tspan',{dy:-4},yt); e2.textContent=' h(z)';
  const e3=mk('tspan',{'font-size':12,dy:-8},yt); e3.textContent='\u22122';
  const e4=mk('tspan',{dy:8},yt); e4.textContent='  [cm';
  const e5=mk('tspan',{'font-size':12,dy:-8},yt); e5.textContent='\u22123';
  const e6=mk('tspan',{dy:8},yt); e6.textContent=']';
  const rt=mk('text',{transform:`translate(${L-50},${D+42}) rotate(-90)`,'text-anchor':'middle','font-size':17},g);
  rt.textContent='Ratio';
  
  

  if(p.legend){
    const lg=mk('g',{},g);
    
    
    mk('circle',{cx:L+19,cy:T+97,r:5.5,fill:'#7b7bea','fill-opacity':0.75},lg);
    const a=mk('text',{x:L+40,y:T+102,'font-size':13},lg); a.appendChild(document.createTextNode('XMM'));
    const as=mk('tspan',{'font-size':9,dy:3},a); as.textContent='dep';
    const cx=L+19,cy=T+122;
    mk('path',{d:`M${cx-5},${cy-5}L${cx+5},${cy+5}M${cx-5},${cy+5}L${cx+5},${cy-5}`,stroke:'#e8382f','stroke-width':1},lg);
    const b=mk('text',{x:L+40,y:T+127,'font-size':13},lg); b.textContent='Chandra V06/V09';
    mk('line',{x1:L+7,x2:L+31,y1:T+139,y2:T+139,stroke:'#000','stroke-width':1.1},lg);
    const c=mk('text',{x:L+40,y:T+144,'font-size':13},lg); c.appendChild(document.createTextNode('Chandra'));
    const cs=mk('tspan',{'font-size':9,dy:3},c); cs.textContent='dep';
  }
});
</script>
</body></html>
